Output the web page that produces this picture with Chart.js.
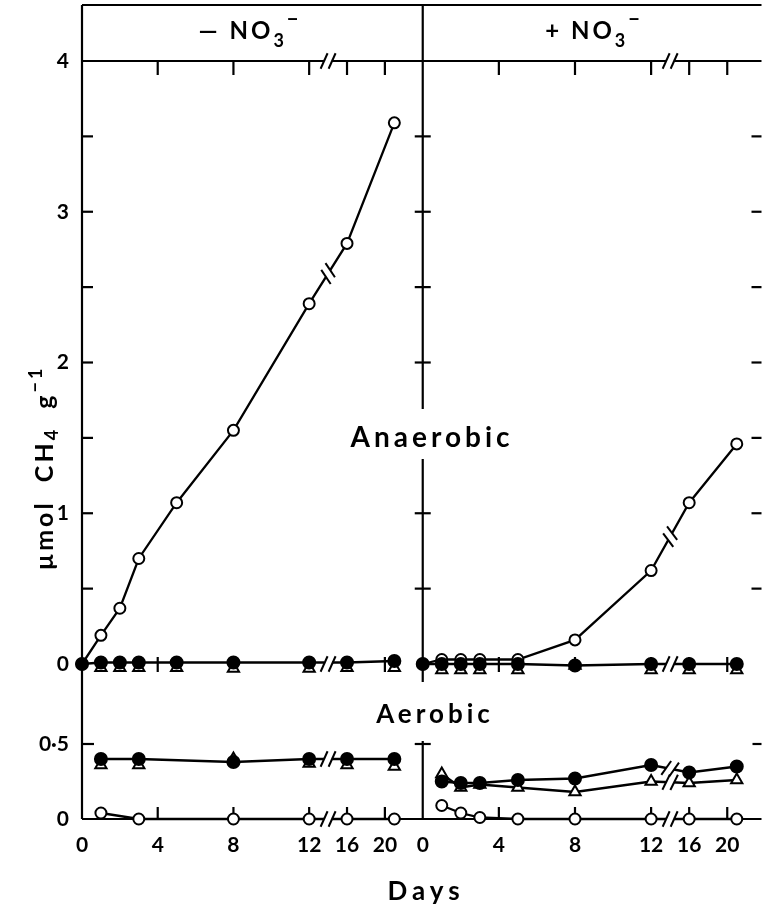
<!DOCTYPE html>
<html>
<head>
<meta charset="utf-8">
<title>Methane production, anaerobic vs aerobic</title>
<script src="https://cdn.jsdelivr.net/npm/chart.js@4.4.1/dist/chart.umd.min.js"></script>
<style>
  html, body { margin: 0; padding: 0; background: #fff; }
  #wrap { width: 770px; height: 909px; }
</style>
</head>
<body>
<div id="wrap"><canvas id="ch4Chart" width="770" height="909"></canvas></div>
<script>
// ---- data ----
const dayTicks = [0, 4, 8, 12, 16, 20];
const umolTicksAnaerobic = [0, 1, 2, 3, 4];
const umolTicksAerobic = [0, 0.5];

const daysAnaerobic = [0, 1, 2, 3, 5, 8, 12, 16, 21];
const daysAnaerobicTri = [1, 2, 3, 5, 8, 12, 16, 21];
const daysAerobicMinus = [1, 3, 8, 12, 16, 21];
const daysAerobicPlus = [1, 2, 3, 5, 8, 12, 16, 21];

// - NO3, anaerobic
const anMinusOpen   = [0, 0.19, 0.37, 0.70, 1.07, 1.55, 2.39, 2.79, 3.59];
const anMinusFilled = [0, 0.01, 0.01, 0.01, 0.01, 0.01, 0.01, 0.01, 0.02];
const anMinusTri    = [-0.025, -0.025, -0.025, -0.025, -0.03, -0.03, -0.025, -0.025];
// + NO3, anaerobic
const anPlusOpen    = [0, 0.03, 0.03, 0.03, 0.03, 0.16, 0.62, 1.07, 1.46];
const anPlusFilled  = [0, 0, 0, 0, 0, -0.01, 0, 0, 0];
const anPlusTri     = [-0.04, -0.04, -0.04, -0.04, -0.01, -0.04, -0.04, -0.04];
// - NO3, aerobic
const aeMinusOpen   = [0.04, 0, 0, 0, 0, 0];
const aeMinusFilled = [0.40, 0.40, 0.38, 0.40, 0.40, 0.40];
const aeMinusTri    = [0.36, 0.36, 0.40, 0.37, 0.36, 0.35];
// + NO3, aerobic
const aePlusOpen    = [0.09, 0.04, 0.01, 0, 0, 0, 0, 0];
const aePlusFilled  = [0.25, 0.24, 0.24, 0.26, 0.27, 0.36, 0.31, 0.35];
const aePlusTri     = [0.30, 0.21, 0.23, 0.21, 0.18, 0.25, 0.24, 0.26];

// days past 12 are drawn at half scale (broken axis)
const BREAK_DAY = 12;
const squeeze = d => d <= BREAK_DAY ? d : BREAK_DAY + (d - BREAK_DAY) / 2;
const unsqueeze = u => u <= BREAK_DAY ? u : BREAK_DAY + (u - BREAK_DAY) * 2;

class BrokenDayScale extends Chart.LinearScale {
  static id = 'brokenDays';
  static defaults = Chart.LinearScale.defaults;
  getPixelForValue(value) { return super.getPixelForValue(squeeze(value)); }
  getValueForPixel(pixel) { return unsqueeze(super.getValueForPixel(pixel)); }
}
Chart.register(BrokenDayScale);

Chart.defaults.font.family = 'Lato';
Chart.defaults.color = '#000';

const OPEN = { pointStyle: 'circle', pointRadius: 5.5, pointBackgroundColor: '#fff', order: 1 };
const FILLED = { pointStyle: 'circle', pointRadius: 6, pointBackgroundColor: '#000', order: 0 };
const TRI = { pointStyle: 'triangle', pointRadius: 6.5, pointBackgroundColor: '#fff', order: 2 };

function series(days, values, xAxisID, yAxisID, style, extra) {
  return Object.assign({
    data: days.map((d, i) => ({ x: d, y: values[i] })),
    xAxisID, yAxisID,
    borderColor: '#000', borderWidth: 2.3,
    pointBorderColor: '#000', pointBorderWidth: 2,
    tension: 0, clip: false
  }, style, extra || {});
}

const datasets = [
  series(daysAnaerobic, anMinusOpen, 'xL', 'yTop', OPEN, { breakLine: true }),
  series(daysAnaerobic, anMinusFilled, 'xL', 'yTop', FILLED),
  series(daysAnaerobicTri, anMinusTri, 'xL', 'yTop', TRI, { showLine: false }),
  series(daysAnaerobic, anPlusOpen, 'xR', 'yTop', OPEN, { breakLine: true }),
  series(daysAnaerobic, anPlusFilled, 'xR', 'yTop', FILLED),
  series(daysAnaerobicTri, anPlusTri, 'xR', 'yTop', TRI, { showLine: false }),
  series(daysAerobicMinus, aeMinusOpen, 'xL', 'yBot', OPEN),
  series(daysAerobicMinus, aeMinusFilled, 'xL', 'yBot', FILLED, { breakLine: true }),
  series(daysAerobicMinus, aeMinusTri, 'xL', 'yBot', TRI, { showLine: false }),
  series(daysAerobicPlus, aePlusOpen, 'xR', 'yBot', OPEN),
  series(daysAerobicPlus, aePlusFilled, 'xR', 'yBot', FILLED, { breakLine: true }),
  series(daysAerobicPlus, aePlusTri, 'xR', 'yBot', TRI, { breakLine: true })
];

const tickFont = { size: 21, weight: 'bold' };

function dayAxis(weight, stackWeight, max) {
  return {
    type: 'brokenDays', position: 'bottom', stack: 'days', stackWeight, weight,
    min: 0, max,
    grid: { display: false, drawTicks: false }, border: { display: false },
    ticks: { font: tickFont, padding: 14, autoSkip: false, maxRotation: 0, callback: v => String(v) },
    afterBuildTicks: s => { s.ticks = dayTicks.map(v => ({ value: v })); },
    afterFit: s => { s.height = 90; s.paddingLeft = 0; s.paddingRight = 0; }
  };
}

function umolAxis(weight, stackWeight, min, max, ticks) {
  return {
    type: 'linear', position: 'left', stack: 'umol', stackWeight, weight,
    min, max,
    grid: { display: false, drawTicks: false }, border: { display: false },
    ticks: { font: tickFont, padding: 13, callback: v => v === 0.5 ? '0·5' : String(v) },
    afterBuildTicks: s => { s.ticks = ticks.map(v => ({ value: v })); },
    afterFit: s => { s.width = 82; s.paddingTop = 0; s.paddingBottom = 0; }
  };
}

// line-break mark "//" across a line at (x, y) running at angle ang
function drawBreak(ctx, x, y, ang) {
  const ux = Math.cos(ang), uy = Math.sin(ang);
  ctx.save();
  ctx.strokeStyle = '#fff';
  ctx.lineWidth = 6;
  ctx.beginPath();
  ctx.moveTo(x - 4 * ux, y - 4 * uy);
  ctx.lineTo(x + 4 * ux, y + 4 * uy);
  ctx.stroke();
  const s = ang - 1.15;
  const sx = Math.cos(s) * 8.5, sy = Math.sin(s) * 8.5;
  ctx.strokeStyle = '#000';
  ctx.lineWidth = 2;
  for (const o of [-4, 4]) {
    const cx = x + o * ux, cy = y + o * uy;
    ctx.beginPath();
    ctx.moveTo(cx - sx, cy - sy);
    ctx.lineTo(cx + sx, cy + sy);
    ctx.stroke();
  }
  ctx.restore();
}

// text made of parts: [text, sizeFactor, baselineShift]
function drawRich(ctx, parts, cx, baseline, size, spacing) {
  ctx.letterSpacing = spacing + 'px';
  const fontFor = f => 'bold ' + Math.round(size * f) + 'px Lato';
  let total = 0;
  for (const [t, f] of parts) { ctx.font = fontFor(f); total += ctx.measureText(t).width; }
  let x = cx - total / 2;
  ctx.textAlign = 'left';
  ctx.textBaseline = 'alphabetic';
  for (const [t, f, dy] of parts) {
    ctx.font = fontFor(f);
    ctx.fillText(t, x, baseline + (dy || 0));
    x += ctx.measureText(t).width;
  }
  return total;
}

const framePlugin = {
  id: 'panelFrame',
  beforeDatasetsDraw(chart) {
    const { ctx, chartArea: a, scales } = chart;
    const { xL, xR, yTop, yBot } = scales;
    const mid = xR.left;
    const y0 = yTop.getPixelForValue(0);
    const headTop = 5;
    ctx.save();
    ctx.strokeStyle = '#000';
    ctx.lineWidth = 2.2;
    const line = (x1, y1, x2, y2) => { ctx.beginPath(); ctx.moveTo(x1, y1); ctx.lineTo(x2, y2); ctx.stroke(); };

    // header box and panel frame
    line(a.left, headTop, a.right, headTop);
    line(a.left, headTop, a.left, a.bottom);
    line(mid, headTop, mid, yTop.bottom);
    line(mid, yBot.getPixelForValue(0.52), mid, a.bottom);
    line(a.left, a.top, a.right, a.top);
    line(a.left, a.bottom, a.right, a.bottom);

    // y ticks every 0.5
    for (let v = 0.5; v < 4; v += 0.5) {
      const py = yTop.getPixelForValue(v);
      line(a.left, py, a.left + 11, py);
      line(mid - 8, py, mid + 8, py);
      line(a.right - 10, py, a.right, py);
    }
    const p5 = yBot.getPixelForValue(0.5);
    line(a.left, p5, a.left + 12, p5);
    line(mid - 8, p5, mid + 8, p5);
    line(a.right - 9, p5, a.right, p5);

    // x ticks
    for (const s of [xL, xR]) {
      for (const d of dayTicks.slice(1)) {
        const px = s.getPixelForValue(d);
        line(px, a.top, px, a.top + 14);
        line(px, y0 - 7, px, y0 + 8);
        line(px, a.bottom, px, a.bottom - 12);
      }
    }

    // panel labels
    ctx.fillStyle = '#000';
    const titleBase = 39;
    drawRich(ctx, [['— NO', 1], ['3', 0.75, 8], ['−', 0.85, -13]], 250, titleBase, 24, 3);
    drawRich(ctx, [['+ NO', 1], ['3', 0.75, 8], ['−', 0.85, -13]], 594, titleBase, 24, 3);

    const boxed = (text, cx, base, size, spacing) => {
      ctx.letterSpacing = spacing + 'px';
      ctx.font = 'bold ' + size + 'px Lato';
      const w = ctx.measureText(text).width;
      ctx.fillStyle = '#fff';
      ctx.fillRect(cx - w / 2 - 6, base - size - 10, w + 12, size + 22);
      ctx.fillStyle = '#000';
      drawRich(ctx, [[text, 1]], cx, base, size, spacing);
    };
    boxed('Anaerobic', 432, 447, 28, 4);
    boxed('Aerobic', 435, 723, 26, 4);
    drawRich(ctx, [['Days', 1]], 426, 900, 26, 5);

    // rotated y label
    ctx.save();
    ctx.translate(44, 468);
    ctx.rotate(-Math.PI / 2);
    drawRich(ctx, [['µmol  CH', 1], ['4', 0.72, 5], ['  g', 1], ['−1', 0.72, -11]], 0, 9, 25, 3);
    ctx.restore();

    ctx.restore();
  },
  afterDatasetsDraw(chart) {
    const { ctx, chartArea: a, scales } = chart;
    const y0 = scales.yTop.getPixelForValue(0);
    for (const s of [scales.xL, scales.xR]) {
      const px = s.getPixelForValue(14);
      for (const py of [a.top, y0, a.bottom]) drawBreak(ctx, px, py, 0);
    }
    chart.data.datasets.forEach((ds, i) => {
      if (!ds.breakLine) return;
      const pts = chart.getDatasetMeta(i).data;
      const days = ds.data.map(p => p.x);
      const p = pts[days.indexOf(12)], q = pts[days.indexOf(16)];
      drawBreak(ctx, (p.x + q.x) / 2, (p.y + q.y) / 2, Math.atan2(q.y - p.y, q.x - p.x));
    });
  }
};

new Chart(document.getElementById('ch4Chart'), {
  type: 'line',
  data: { datasets },
  options: {
    responsive: false,
    animation: false,
    events: [],
    layout: { padding: { top: 61, left: 0, right: 0, bottom: 0 } },
    plugins: { legend: { display: false }, tooltip: { enabled: false } },
    scales: {
      xL: dayAxis(0, 345, 18),
      xR: dayAxis(1, 343, 17.8),
      yTop: umolAxis(1, 621, -0.1194, 4, umolTicksAnaerobic),
      yBot: umolAxis(0, 137, 0, 0.9133, umolTicksAerobic)
    }
  },
  plugins: [framePlugin]
});
</script>
</body>
</html>
